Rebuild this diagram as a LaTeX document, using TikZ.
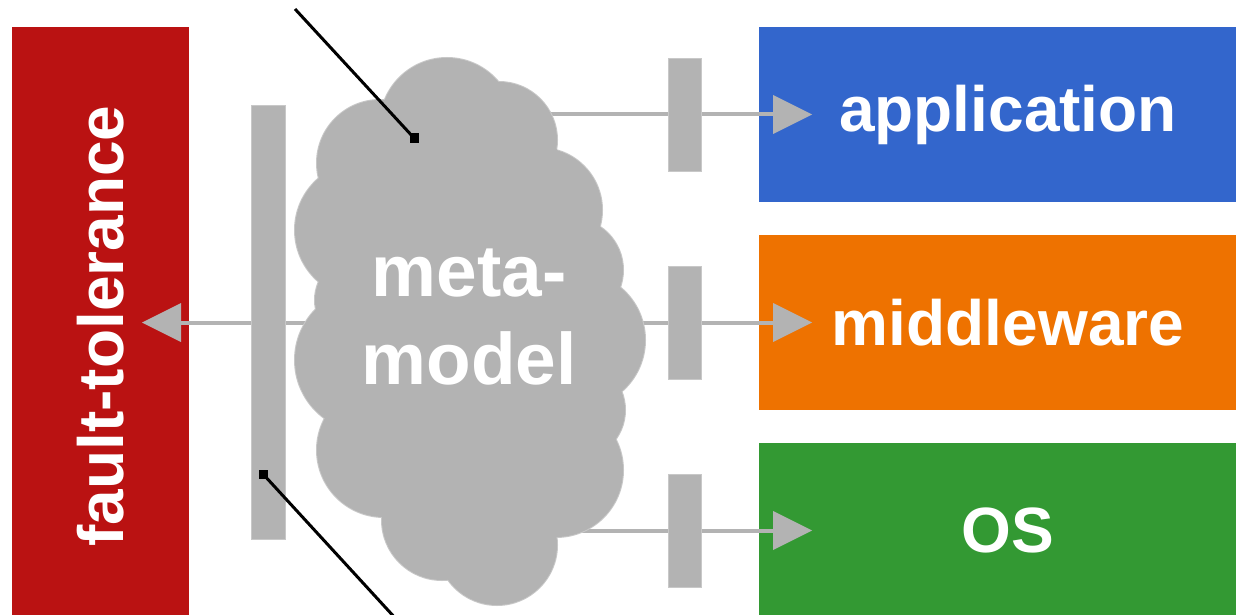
\documentclass[tikz,border=0pt]{standalone}
\usepackage{fontspec}
\setmainfont{Liberation Sans}
\usetikzlibrary{arrows.meta}
\definecolor{ftred}{RGB}{186,18,18}
\definecolor{appblue}{RGB}{51,102,204}
\definecolor{mwor}{RGB}{238,114,0}
\definecolor{osgreen}{RGB}{51,153,51}
\definecolor{cgray}{RGB}{179,179,179}
\definecolor{cedge}{RGB}{200,200,200}
\begin{document}
\begin{tikzpicture}[x=1pt,y=-1pt,
  layerbox/.style={rectangle, inner sep=0pt, minimum width=498pt, minimum height=175pt, text=white, font=\fontsize{64}{77}\selectfont\bfseries},
  bar/.style={rectangle, fill=cgray, draw=cedge, line width=0.8pt, inner sep=0pt},
  conn/.style={draw=cgray, line width=4pt, -{Triangle[length=39pt,width=39pt,line width=0pt]}, fill=cgray},
  pointer/.style={line width=3pt, black},
  marker/.style={rectangle, fill=black, inner sep=0pt, minimum size=9pt},
  cloudtext/.style={text=white, align=center, font=\fontsize{73}{88}\selectfont\bfseries}]
\useasboundingbox (0,0) rectangle (1236,615);
% layer boxes
\node[layerbox, fill=ftred, rotate=90, minimum width=598pt, minimum height=177pt] (ft) at (100.5,326) {fault-tolerance};
\node[layerbox, fill=appblue] (app) at (1008,114.5) {application};
\node[layerbox, fill=mwor] (mw) at (1008,322.5) {middleware};
\node[layerbox, fill=osgreen] (os) at (1008,530.5) {OS};
% connector end points
\coordinate (cl) at (470,330);
\coordinate (appin) at (812,114.5);
\coordinate (mwin) at (812,322.5);
\coordinate (osin) at (812,530.5);
\coordinate (ftin) at (142,322.5);
\draw[conn] (cl |- appin) -- (appin);
\draw[conn] (cl |- mwin) -- (mwin);
\draw[conn] (cl |- osin) -- (osin);
\draw[conn] (cl |- ftin) -- (ftin);
% cloud
\foreach \cx/\cy/\r in {447/125/67, 499/140/58, 380/163/63, 540/210/62, 363/230/68, 571/270/52, 360/300/45, 577/340/68, 575/410/50, 556/470/67, 367/360/72, 384/450/67, 442/520/60, 497/545/60}
  \draw[cedge, line width=2pt] (\cx,\cy) circle[radius=\r];
\foreach \cx/\cy/\r in {447/125/67, 499/140/58, 380/163/63, 540/210/62, 363/230/68, 571/270/52, 360/300/45, 577/340/68, 575/410/50, 556/470/67, 367/360/72, 384/450/67, 442/520/60, 497/545/60}
  \fill[cgray] (\cx,\cy) circle[radius=\r];
\fill[cgray] (cl) ellipse[x radius=140, y radius=230];
\node[cloudtext] (mm) at (469,317) {meta-\\model};
% bars
\node[bar, minimum width=34pt, minimum height=434pt] (lbar) at (268,322) {};
\node[bar, minimum width=33pt, minimum height=113pt] (bapp) at (684.5,114.5) {};
\node[bar, minimum width=33pt, minimum height=113pt] (bmw) at (684.5,322.5) {};
\node[bar, minimum width=33pt, minimum height=113pt] (bos) at (684.5,530.5) {};
% pointers
\node[marker] (sq1) at (414,138) {};
\node[marker] (sq2) at (263,474) {};
\coordinate (p1) at (295,9);
\coordinate (p2) at (397,620);
\draw[pointer] (p1) -- (sq1.center);
\draw[pointer] (sq2.center) -- (p2);
\end{tikzpicture}
\end{document}
